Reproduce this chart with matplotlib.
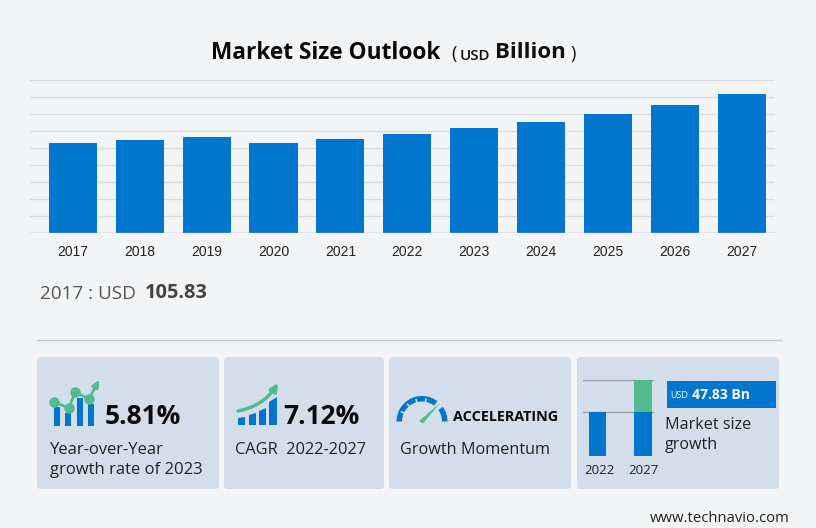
import matplotlib
matplotlib.use("Agg")
import matplotlib.pyplot as plt
import numpy as np
from matplotlib.patches import FancyBboxPatch, Rectangle, Wedge, Polygon, FancyArrowPatch

# Data
years = [2017, 2018, 2019, 2020, 2021, 2022, 2023, 2024, 2025, 2026, 2027]
market_size = [105.83, 109.3, 113.4, 105.5, 110.5, 116.0, 123.4, 131.0, 140.3, 150.8, 163.8]
grid_values = list(range(0, 200, 20))
mini_years = ["2022", "2027"]
mini_base = [116, 116]
mini_growth = [0, 86]

BG = "#f3f4f6"
CARD = "#d4deea"
BLUE = "#0076cf"
GREEN = "#52ba8f"
BODY = "Open Sans"

fig = plt.figure(figsize=(8.16, 5.28), dpi=100, facecolor=BG)


def axes_px(left, top, right, bottom):
    """Axes placed by pixel box, y measured from the top of the image."""
    return fig.add_axes([left / 816, 1 - bottom / 528, (right - left) / 816, (bottom - top) / 528])


# Overlay in pixel coordinates for cards and text
ov = fig.add_axes([0, 0, 1, 1], zorder=0)
ov.set_xlim(0, 816)
ov.set_ylim(528, 0)
ov.axis("off")

# Main chart
ax = axes_px(30, 80, 775, 233)
ax.set_zorder(1)
ax.patch.set_alpha(0)
ax.bar(range(len(years)), market_size, width=0.72, color=BLUE, zorder=3)
ax.set_xlim(-0.643, 10.5)
ax.set_ylim(0, 180)
ax.set_yticks(grid_values)
ax.set_xticks(range(len(years)))
ax.set_xticklabels(years, family="Liberation Sans", fontsize=10, color="#222222")
ax.tick_params(axis="x", length=0, pad=9)
ax.tick_params(axis="y", length=0, labelleft=False)
ax.grid(axis="y", color="#d9dbe0", lw=1, zorder=0)
for name, spine in ax.spines.items():
    spine.set_visible(False)
ax.axhline(0, color="#b5b8bf", lw=1, zorder=4)

# Title
ov.text(211, 53, "Market Size Outlook", family=BODY, weight="bold", fontsize=16.3, color="#0a0a0a", va="center")
ov.text(451, 54, "(", family=BODY, fontsize=13, color="#111111", va="center")
ov.text(460, 56, "USD", family=BODY, weight="semibold", fontsize=10.8, color="#111111", va="center")
ov.text(495, 53, "Billion", family=BODY, weight="bold", fontsize=16, color="#111111", va="center")
ov.text(570, 54, ")", family=BODY, fontsize=13, color="#111111", va="center")

# Selected year read-out
ov.text(40, 294, "2017 : USD", family=BODY, fontsize=13.6, color="#555555", va="center")
ov.text(145, 293, "105.83", family=BODY, weight="bold", fontsize=14.4, color="#444444", va="center")

ov.plot([37, 781], [340, 340], color="#c3c6d2", lw=1)

# KPI cards
for left, right in [(37, 219), (224, 384), (389, 571), (577, 779)]:
    ov.add_patch(FancyBboxPatch((left + 4, 361), right - left - 8, 124, boxstyle="round,pad=4",
                                fc=CARD, ec="none"))

# Card 1 icon
for x0, top in [(54, 407), (65, 413), (77, 398), (88, 404)]:
    ov.add_patch(Rectangle((x0, top), 6, 426 - top, fc=BLUE, ec="none"))
ov.plot([54, 69, 75, 89], [402, 408, 392, 399], color=GREEN, lw=2, marker="o", ms=6.5)
ov.add_patch(FancyArrowPatch((89, 399), (99, 380), arrowstyle="-|>", mutation_scale=10, color=GREEN, lw=2,
                             shrinkA=0, shrinkB=0))
ov.text(105, 417, "5.81%", family=BODY, weight="bold", fontsize=19, color="#0a0a0a", va="center")
ov.text(50, 450, "Year-over-Year", family=BODY, fontsize=12, color="#222222", va="center")
ov.text(50, 470, "growth rate of 2023", family=BODY, fontsize=12, color="#222222", va="center")

# Card 2 icon
for x0, x1, top0, top1 in [(238, 245, 418, 417), (249, 256, 415, 413), (259, 266, 411, 408), (269, 277, 402, 397)]:
    ov.add_patch(Polygon([[x0, 425], [x0, top0], [x1, top1], [x1, 425]], fc=BLUE, ec="none"))
ov.add_patch(FancyArrowPatch((238, 411), (278, 383), connectionstyle="arc3,rad=0.22", arrowstyle="-|>",
                             mutation_scale=11, color=GREEN, lw=2.5, shrinkA=0, shrinkB=0))
ov.text(283, 417, "7.12%", family=BODY, weight="bold", fontsize=19, color="#0a0a0a", va="center")
ov.text(235, 450, "CAGR  2022-2027", family=BODY, fontsize=11.8, color="#222222", va="center")

# Card 3 gauge, y axis of the overlay is flipped so 180-360 is the upper half
ov.add_patch(Wedge((422, 421.5), 25.5, 180, 307, width=5.5, fc=BLUE, ec="none"))
ov.add_patch(Wedge((422, 421.5), 25.5, 325, 360, width=5.5, fc=BLUE, ec="none"))
for deg in [205, 230, 255, 280]:
    rad = np.deg2rad(deg)
    ov.plot([422 + 19.5 * np.cos(rad), 422 + 22.5 * np.cos(rad)],
            [421.5 + 19.5 * np.sin(rad), 421.5 + 22.5 * np.sin(rad)], color=CARD, lw=1.2)
ov.add_patch(Polygon([[419, 421], [423, 423.5], [440, 403]], fc=GREEN, ec="none"))
ov.text(453, 417, "ACCELERATING", family=BODY, weight="bold", fontsize=10.4, color="#0a0a0a", va="center")
ov.text(400, 450, "Growth Momentum", family=BODY, fontsize=11.7, color="#222222", va="center")

# Card 4 mini chart
mini = axes_px(583, 380, 654, 456)
mini.set_zorder(1)
mini.patch.set_alpha(0)
mini.bar([0, 1], mini_base, width=0.385, color=BLUE, zorder=2)
mini.bar([0, 1], mini_growth, bottom=mini_base, width=0.385, color=GREEN, zorder=2)
mini.set_xlim(-0.319, 1.24)
mini.set_ylim(0, 202)
mini.set_yticks([116, 202])
mini.grid(axis="y", color="#98a3ae", lw=1, zorder=3)
mini.tick_params(axis="both", length=0, labelleft=False, pad=6)
mini.set_xticks([0.04, 1.02])
mini.set_xticklabels(mini_years, family=BODY, fontsize=9.5, color="#222222")
for spine in mini.spines.values():
    spine.set_visible(False)

ov.add_patch(Rectangle((667, 381), 109, 27, fc=BLUE, ec="none"))
ov.text(670, 396, "USD", family=BODY, fontsize=6.5, color="white", va="center")
ov.text(692, 395, "47.83 Bn", family=BODY, weight="bold", fontsize=10, color="white", va="center")
ov.text(665, 425, "Market size", family=BODY, fontsize=11.6, color="#222222", va="center")
ov.text(665, 445, "growth", family=BODY, fontsize=11.6, color="#222222", va="center")

ov.text(650, 518, "www.technavio.com", family=BODY, fontsize=10.7, color="#222222", va="center")

fig.savefig("out.png", dpi=100, facecolor=BG)
